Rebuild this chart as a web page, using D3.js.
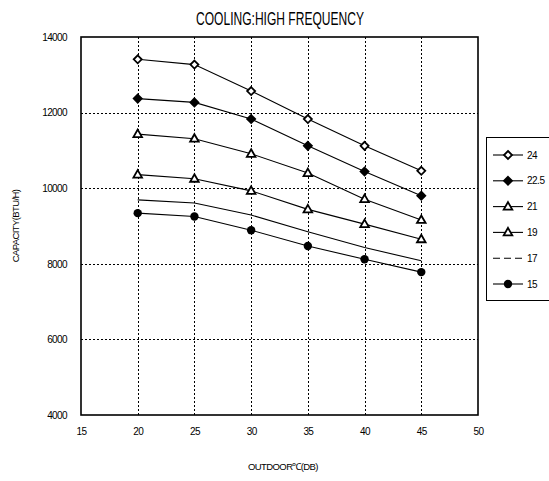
<!DOCTYPE html>
<html>
<head>
<meta charset="utf-8">
<script src="https://cdn.jsdelivr.net/npm/d3@7"></script>
<style>
  html, body { margin: 0; padding: 0; background: #fff; }
  svg { display: block; }
  text { font-family: "Liberation Sans", Arial, sans-serif; fill: #000; }
</style>
</head>
<body>
<svg id="chart" width="549" height="481"></svg>
<script>
// Outdoor dry-bulb temperature (°C)
const outdoorTemps = [20, 25, 30, 35, 40, 45];

// Capacity (BTU/H) for each indoor wet-bulb condition
const cap24  = [13410, 13270, 12570, 11830, 11120, 10460];
const cap225 = [12370, 12270, 11830, 11120, 10440, 9800];
const cap21  = [11430, 11310, 10910, 10400, 9710, 9160];
const cap19  = [10360, 10250, 9930, 9440, 9050, 8650];
const cap17  = [9690, 9610, 9290, 8850, 8430, 8080];
const cap15  = [9340, 9250, 8890, 8470, 8120, 7780];

const seriesNames = ["24", "22.5", "21", "19", "17", "15"];
const seriesMarkers = ["diamondOpen", "diamondFilled", "triangleOpen", "triangleOpen", "none", "circleFilled"];

const xTicks = [15, 20, 25, 30, 35, 40, 45, 50];
const yTicks = [4000, 6000, 8000, 10000, 12000, 14000];

const series = [cap24, cap225, cap21, cap19, cap17, cap15].map((vals, i) => ({
  name: seriesNames[i],
  marker: seriesMarkers[i],
  points: vals.map((v, j) => ({ x: outdoorTemps[j], y: v }))
}));

const svg = d3.select("#chart");
const plot = { left: 81, right: 478, top: 37, bottom: 415 };

const x = d3.scaleLinear().domain([15, 50]).range([plot.left, plot.right]);
const y = d3.scaleLinear().domain([4000, 14000]).range([plot.bottom, plot.top]);

// Title
svg.append("text")
  .attr("x", 280).attr("y", 25)
  .attr("text-anchor", "middle")
  .attr("font-size", 18)
  .attr("textLength", 168)
  .attr("lengthAdjust", "spacingAndGlyphs")
  .text("COOLING:HIGH FREQUENCY");

// Dotted grid
const grid = svg.append("g").attr("stroke", "#000").attr("stroke-width", 1).attr("stroke-dasharray", "2,2");
grid.selectAll("line.v").data(xTicks.slice(1, -1)).enter().append("line")
  .attr("x1", d => Math.round(x(d)) + 0.5).attr("x2", d => Math.round(x(d)) + 0.5)
  .attr("y1", plot.top).attr("y2", plot.bottom);
grid.selectAll("line.h").data(yTicks.slice(1, -1)).enter().append("line")
  .attr("y1", d => Math.round(y(d)) + 0.5).attr("y2", d => Math.round(y(d)) + 0.5)
  .attr("x1", plot.left).attr("x2", plot.right);

// Plot frame
svg.append("rect")
  .attr("x", plot.left).attr("y", plot.top)
  .attr("width", plot.right - plot.left).attr("height", plot.bottom - plot.top)
  .attr("fill", "none").attr("stroke", "#000").attr("stroke-width", 1.6);

// Axes (labels only, frame drawn above)
const xAxis = svg.append("g")
  .attr("transform", `translate(0,${plot.bottom + 13})`)
  .call(d3.axisBottom(x).tickValues(xTicks).tickSize(0).tickPadding(0).tickFormat(d3.format("d")));
xAxis.select(".domain").remove();
xAxis.selectAll("text").attr("font-size", 10).attr("letter-spacing", -0.6)
  .style("font-family", "Liberation Sans, Arial, sans-serif");

const yAxis = svg.append("g")
  .attr("transform", `translate(${plot.left - 14},0)`)
  .call(d3.axisLeft(y).tickValues(yTicks).tickSize(0).tickPadding(0).tickFormat(d3.format("d")));
yAxis.select(".domain").remove();
yAxis.selectAll("text").attr("font-size", 10).attr("letter-spacing", -0.6)
  .style("font-family", "Liberation Sans, Arial, sans-serif");

// Axis titles
svg.append("text")
  .attr("x", 283).attr("y", 470)
  .attr("text-anchor", "middle").attr("font-size", 9.5).attr("letter-spacing", -0.6)
  .text("OUTDOOR℃(DB)");
svg.append("text")
  .attr("transform", `translate(19,${(plot.top + plot.bottom) / 2}) rotate(-90)`)
  .attr("text-anchor", "middle").attr("font-size", 9.5).attr("letter-spacing", -0.6)
  .text("CAPACITY(BTU/H)");

// Marker drawing helper
function drawMarker(g, type, cx, cy) {
  if (type === "diamondOpen" || type === "diamondFilled") {
    g.append("path")
      .attr("d", `M${cx},${cy - 4}L${cx + 4},${cy}L${cx},${cy + 4}L${cx - 4},${cy}Z`)
      .attr("fill", type === "diamondFilled" ? "#000" : "#fff")
      .attr("stroke", "#000").attr("stroke-width", 1.8);
  } else if (type === "triangleOpen") {
    g.append("path")
      .attr("d", `M${cx},${cy - 4.5}L${cx + 4.3},${cy + 3}L${cx - 4.3},${cy + 3}Z`)
      .attr("fill", "#fff").attr("stroke", "#000").attr("stroke-width", 1.8);
  } else if (type === "circleFilled") {
    g.append("circle").attr("cx", cx).attr("cy", cy).attr("r", 4.2).attr("fill", "#000");
  }
}

const line = d3.line().x(d => x(d.x)).y(d => y(d.y));

// Series lines and markers
series.forEach(s => {
  svg.append("path")
    .datum(s.points)
    .attr("d", line)
    .attr("fill", "none")
    .attr("stroke", "#000")
    .attr("stroke-width", 1.1);
});
series.forEach(s => {
  const g = svg.append("g");
  s.points.forEach(p => drawMarker(g, s.marker, x(p.x), y(p.y)));
});

// Legend
const legend = svg.append("g");
legend.append("rect")
  .attr("x", 486.5).attr("y", 137.5).attr("width", 70).attr("height", 163)
  .attr("fill", "#fff").attr("stroke", "#000").attr("stroke-width", 1);
series.forEach((s, i) => {
  const ly = 155 + i * 25.8;
  legend.append("line")
    .attr("x1", 493).attr("x2", 523).attr("y1", ly).attr("y2", ly)
    .attr("stroke", "#000").attr("stroke-width", 1.1)
    .attr("stroke-dasharray", s.marker === "none" ? "7,4" : null);
  drawMarker(legend, s.marker, 508, ly);
  legend.append("text")
    .attr("x", 527).attr("y", ly + 3.5)
    .attr("font-size", 10).attr("letter-spacing", -0.5)
    .text(s.name);
});
</script>
</body>
</html>
